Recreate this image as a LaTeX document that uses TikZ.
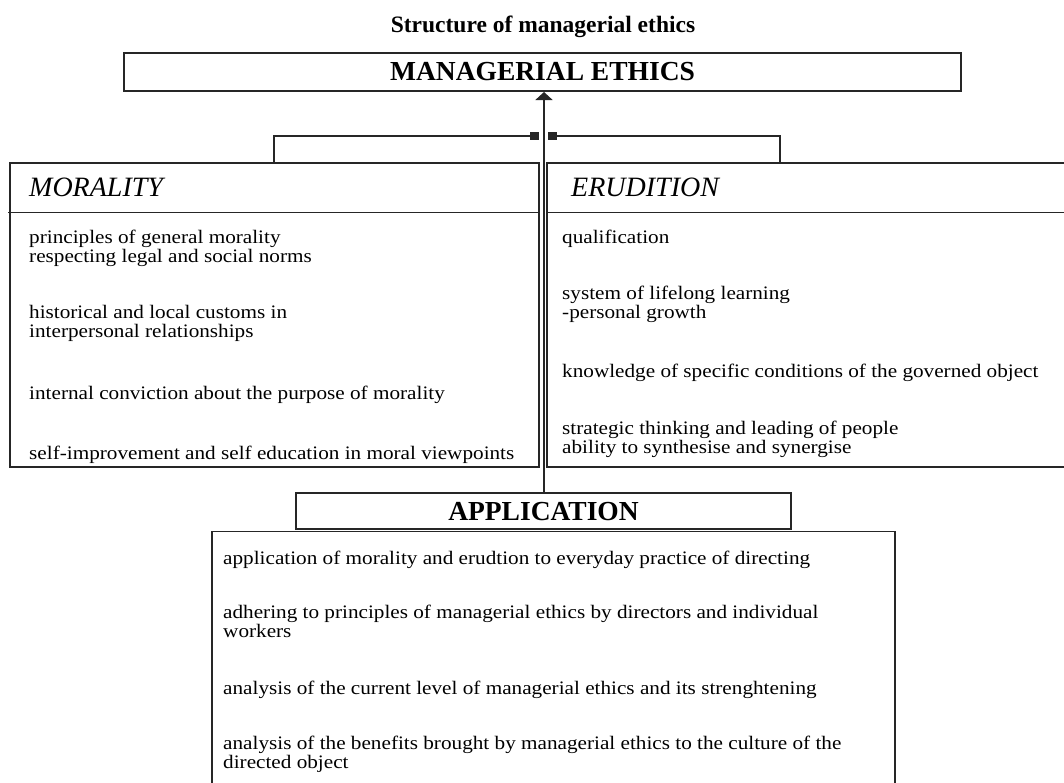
\documentclass[tikz,border=0pt]{standalone}
\usepackage{fontspec}
\setmainfont{Liberation Serif}
\usetikzlibrary{arrows.meta}
\newcommand{\sqz}[1]{\scalebox{1}[0.9]{#1}}
\begin{document}
\begin{tikzpicture}[x=1pt,y=-1pt,
  ln/.style={line width=1.6pt, draw=black!85},
  boxnode/.style={ln, rectangle, inner sep=0pt, outer sep=0pt, anchor=north west},
  body/.style={anchor=base west, inner sep=0pt, font=\fontsize{21.2}{19}\selectfont},
  head/.style={anchor=base west, inner sep=0pt, font=\fontsize{28}{32}\selectfont\itshape},
  bighead/.style={anchor=base, inner sep=0pt, font=\fontsize{27.5}{32}\selectfont\bfseries},
  sqtip/.style={-{Square[length=9pt,width=8pt]}},
]
\clip (0,0) rectangle (1064,782);
\fill[white] (0,0) rectangle (1064,782);
% title
\node[anchor=base, inner sep=0pt, font=\fontsize{23.5}{28}\selectfont\bfseries] (title) at (543,32) {Structure of managerial ethics};
% managerial ethics box
\node[boxnode, minimum width=837pt, minimum height=38pt] (me) at (124,53) {};
\node[bighead] (metext) at (542.5,80.5) {MANAGERIAL ETHICS};
% morality / erudition boxes
\node[boxnode, minimum width=529pt, minimum height=304pt] (mor) at (10,163) {};
\node[boxnode, minimum width=530pt, minimum height=304pt] (eru) at (547,163) {};
\coordinate (mdl) at (8,212.5);
\draw[ln] (mdl) -- (mdl -| mor.east);
\draw[ln] (mdl -| eru.west) -- (mdl -| eru.east);
% application boxes
\node[boxnode, minimum width=495pt, minimum height=36pt] (apt) at (296,493) {};
\node[boxnode, minimum width=683pt, minimum height=300pt] (apc) at (212,531.5) {};
\node[bighead] (apttext) at (543.5,520.5) {APPLICATION};
% connectors
\coordinate (vb) at (544,493);
\draw[ln, -{Triangle[length=8pt,width=17pt]}, shorten >=1pt] (vb) -- (vb |- me.south);
\coordinate (bl) at (274,136);
\coordinate (bc1) at (539,136);
\coordinate (br) at (780,136);
\coordinate (bc2) at (548,136);
\draw[ln, sqtip] (mor.north -| bl) -- (bl) -- (bc1);
\draw[ln, sqtip] (eru.north -| br) -- (br) -- (bc2);
% headings
\node[head] (morh) at (29,196) {MORALITY};
\node[head] (eruh) at (571,196) {ERUDITION};
% morality texts
\node[body] (m1) at (29,243) {\sqz{principles of general morality}};
\node[body] (m2) at (29,262.5) {\sqz{respecting legal and social norms}};
\node[body] (m3) at (29,318) {\sqz{historical and local customs in}};
\node[body] (m4) at (29,337.5) {\sqz{interpersonal relationships}};
\node[body] (m5) at (29,399) {\sqz{internal conviction about the purpose of morality}};
\node[body] (m6) at (29,459) {\sqz{self-improvement and self education in moral viewpoints}};
% erudition texts
\node[body] (e1) at (562,243) {\sqz{qualification}};
\node[body] (e2) at (562,299) {\sqz{system of lifelong learning}};
\node[body] (e3) at (562,318.5) {\sqz{-personal growth}};
\node[body] (e4) at (562,377) {\sqz{knowledge of specific conditions of the governed object}};
\node[body] (e5) at (562,434) {\sqz{strategic thinking and leading of people}};
\node[body] (e6) at (562,453.5) {\sqz{ability to synthesise and synergise}};
% application texts
\node[body] (a1) at (223,564) {\sqz{application of morality and erudtion to everyday practice of directing}};
\node[body] (a2) at (223,618) {\sqz{adhering to principles of managerial ethics by directors and individual}};
\node[body] (a3) at (223,637.5) {\sqz{workers}};
\node[body] (a4) at (223,694) {\sqz{analysis of the current level of managerial ethics and its strenghtening}};
\node[body] (a5) at (223,749) {\sqz{analysis of the benefits brought by managerial ethics to the culture of the}};
\node[body] (a6) at (223,768.5) {\sqz{directed object}};
\end{tikzpicture}
\end{document}
